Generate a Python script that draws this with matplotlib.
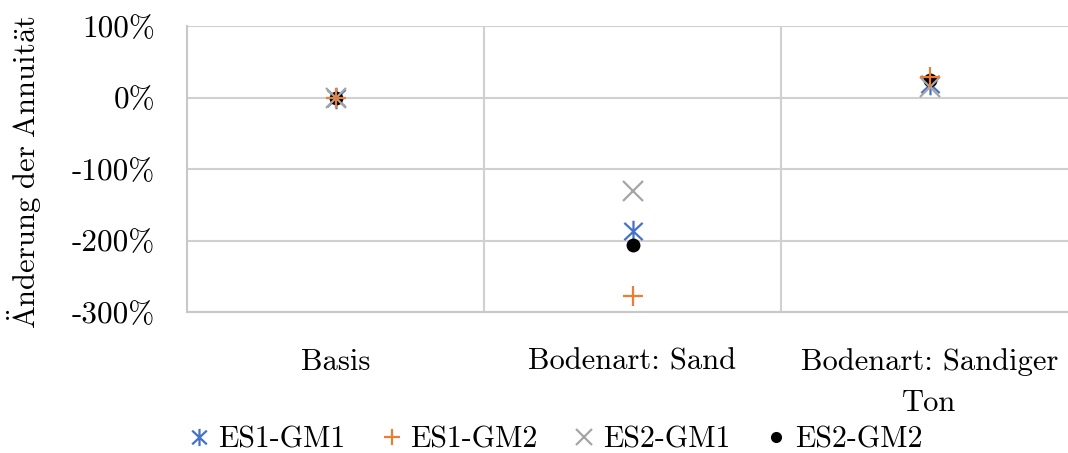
import numpy as np
import matplotlib
matplotlib.use("Agg")
import matplotlib.pyplot as plt
from matplotlib.path import Path

plt.rcParams['font.family'] = ['cmr10', 'DejaVu Serif']
plt.rcParams['mathtext.fontset'] = 'cm'
plt.rcParams['axes.unicode_minus'] = False

#%% Data
categories = ["Basis", "Bodenart: Sand", "Bodenart: Sandiger\nTon"]
series = ["ES1-GM1", "ES1-GM2", "ES2-GM1", "ES2-GM2"]
es1_gm1 = [0, -187, 19]
es1_gm2 = [0, -278, 28]
es2_gm1 = [0, -131, 15]
es2_gm2 = [0, -206, 24]
yticks = [100, 0, -100, -200, -300]
ytick_labels = ["100%", "0%", "-100%", "-200%", "-300%"]
# cmr10 has no umlaut glyphs, so the label goes through mathtext accents
ylabel = r"$\mathrm{\ddot{A}nderung\ der\ Annuit\ddot{a}t}$"

#%% Styles
# Excel-like star: vertical bar plus an x
star = Path([(0, -1), (0, 1), (-0.85, -0.8), (0.85, 0.8), (-0.85, 0.8), (0.85, -0.8)],
            [Path.MOVETO, Path.LINETO, Path.MOVETO, Path.LINETO, Path.MOVETO, Path.LINETO])
styles = {
    "ES1-GM1": dict(color='#4472C4', marker=star, ms=15.5, mew=1.6, z=3),
    "ES1-GM2": dict(color='#ED7D31', marker='+', ms=15, mew=1.6, z=6),
    "ES2-GM1": dict(color='#A5A5A5', marker='x', ms=14, mew=1.6, z=5),
    "ES2-GM2": dict(color='black', marker='o', ms=10, mew=0, z=4),
}
values = {"ES1-GM1": es1_gm1, "ES1-GM2": es1_gm2, "ES2-GM1": es2_gm1, "ES2-GM2": es2_gm2}

#%% Plot
fig = plt.figure(figsize=(10.68, 4.53), dpi=100)
ax = fig.add_axes([187/1068, 141/453, 891/1068, 286/453])

x = np.arange(len(categories))
handles = []
for name in series:
    s = styles[name]
    h, = ax.plot(x, values[name], linestyle='none', marker=s['marker'], color=s['color'],
                 ms=s['ms'], mew=s['mew'], zorder=s['z'], label=name)
    handles.append(h)

ax.set_xlim(-0.5, 2.5)
ax.set_ylim(-300, 100)
ax.set_yticks(yticks, ytick_labels, fontsize=22.5)
ax.set_xticks(x, categories, fontsize=22, linespacing=1.65)
ax.set_xticks([0.5, 1.5], minor=True)
ax.tick_params(axis='both', which='both', length=0)
ax.tick_params(axis='y', pad=23)
ax.tick_params(axis='x', pad=26)
ax.set_axisbelow(True)
ax.grid(axis='y', which='major', color='#d0d0d0', lw=1.5)
ax.grid(axis='x', which='minor', color='#d0d0d0', lw=1.5)
for side in ['top', 'right']:
    ax.spines[side].set_visible(False)
for side in ['left', 'bottom']:
    ax.spines[side].set_color('#c8c8c8')
    ax.spines[side].set_linewidth(1.5)

fig.text(25/1068, 1 - 172/453, ylabel, rotation=90, ha='center', va='center', fontsize=22)

fig.legend(handles=handles, loc='center left', bbox_to_anchor=(179/1068, 1 - 440/453),
           ncol=4, frameon=False, fontsize=21.5, handlelength=0.55, handletextpad=0.35,
           columnspacing=1.28, borderaxespad=0, markerscale=0.8)

fig.savefig("out.png", dpi=100)
